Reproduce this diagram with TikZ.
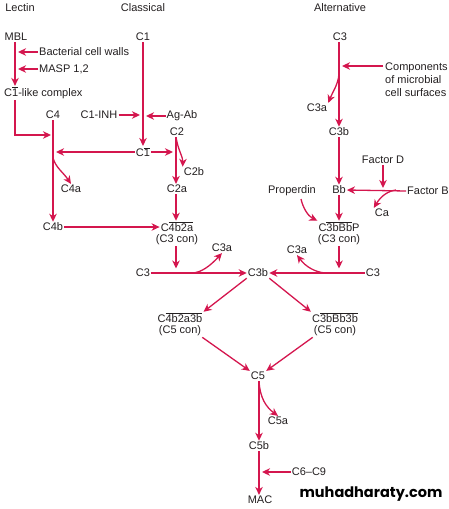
\documentclass[tikz,border=0pt]{standalone}
\usepackage{fontspec}
\setmainfont{Liberation Sans}
\newfontfamily\wmfont{Poppins}[UprightFont=* Bold]
\usetikzlibrary{arrows.meta}
\definecolor{crim}{RGB}{212,22,78}
\definecolor{txt}{RGB}{35,31,32}
\tikzset{
  lbl/.style={inner sep=1pt, text=txt, font=\fontsize{11}{13}\selectfont},
  arr/.style={draw=crim, line width=1.3pt, -{Stealth[length=8pt,width=7.5pt,inset=2.5pt]}},
  ln/.style={draw=crim, line width=1.3pt},
}
\newcommand{\ovl}[1]{$\overline{\mbox{#1}}$}
\begin{document}
\begin{tikzpicture}[x=1pt,y=-1pt]
\useasboundingbox (0,0) rectangle (449,509);
% headings
\node[lbl] (lectin) at (20,8) {Lectin};
\node[lbl] (classical) at (143,8) {Classical};
\node[lbl] (alt) at (340,8) {Alternative};
% lectin pathway
\node[lbl] (mbl) at (16,37) {MBL};
\node[lbl, anchor=west] (bcw) at (38,52) {Bacterial cell walls};
\node[lbl, anchor=west] (masp) at (38,69) {MASP 1,2};
\node[lbl, anchor=west] (c1like) at (3,93) {C\ovl{1}-like complex};
\coordinate (mblx) at (15,37);
\draw[arr] (mbl.south -| mblx) -- (mblx |- c1like.north);
\draw[arr, shorten >=3pt] (bcw.west) -- (bcw.west -| mblx);
\draw[arr, shorten >=3pt] (masp.west) -- (masp.west -| mblx);
\node[lbl] (c4) at (53,115) {C4};
\coordinate (j1) at (51,135);
\draw[arr] (mblx |- c1like.south) |- (j1);
\node[lbl] (c4a) at (71,189) {C4a};
\node[lbl] (c4b) at (53,227) {C4b};
\draw[arr] (c4.south) -- (c4b.north);
\coordinate (c4s) at (53,158);
\draw[arr] (c4s) .. controls (56,168) and (63,172) .. (c4a.north);
% classical pathway
\node[lbl] (c1) at (143,37) {C1};
\node[lbl] (c1bar) at (143,152) {C\ovl{1}};
\draw[arr] (c1.south) -- (c1bar.north);
\node[lbl] (c1inh) at (99,115) {C1-INH};
\node[lbl] (agab) at (182,116) {Ag-Ab};
\draw[arr, shorten >=3pt] (c1inh.east) -- (c1inh.east -| c1);
\draw[arr, shorten >=3pt] (agab.west) -- (agab.west -| c1);
\draw[arr, shorten >=3pt] (c1bar.west) -- (c1bar.west -| c4);
\node[lbl] (c2) at (177,132) {C2};
\coordinate (c2x) at (176,132);
\draw[arr, shorten >=3pt] (c1bar.east) -- (c1bar.east -| c2x);
\node[lbl] (c2b) at (194,172) {C2b};
\node[lbl] (c2a) at (177,189) {C2a};
\draw[arr] (c2.south -| c2x) -- (c2x |- c2a.north);
\draw[arr] (c2.south -| c2x) .. controls (178,150) and (183,157) .. (c2b.north west);
\node[lbl] (c4b2a) at (177,227) {C\ovl{4b2a}};
\node[lbl] (con1) at (177,240) {(C3 con)};
\draw[arr] (c2x |- c2a.south) -- (c2x |- c4b2a.north);
\draw[arr] (c4b.east) -- (c4b2a.west);
% middle row
\node[lbl] (c3l) at (143,273) {C3};
\node[lbl] (c3b) at (258,273) {C3b};
\node[lbl] (c3r) at (373,273) {C3};
\draw[arr] (c3l.east) -- (c3b.west);
\draw[arr] (c3r.west) -- (c3b.east);
\draw[arr, shorten >=4.5pt] (c2x |- con1.south) -- (c2x |- c3b.center);
\node[lbl] (c3al) at (222,248) {C3a};
\node[lbl] (c3ar) at (297,250) {C3a};
\coordinate (ml) at (193,273);
\coordinate (mr) at (325,273);
\draw[arr] (ml) .. controls (202,272) and (210,266) .. (c3al.south);
\draw[arr] (mr) .. controls (315,272) and (306,267) .. (c3ar.south);
% alternative pathway
\node[lbl] (c3t) at (340,37) {C3};
\coordinate (ax) at (339,37);
\node[lbl] (c3bal) at (339,132) {C3b};
\draw[arr] (c3t.south -| ax) -- (ax |- c3bal.north);
\node[lbl, anchor=west, align=left, inner sep=0pt] (comp) at (385,80) {Components\\of microbial\\cell surfaces};
\coordinate (compa) at (383,66);
\draw[arr, shorten >=3pt] (compa) -- (compa -| ax);
\node[lbl] (c3aal) at (317,108) {C3a};
\coordinate (a75) at (339,74);
\draw[arr] (a75) .. controls (338,85) and (333,91) .. (c3aal.north east);
\node[lbl] (bb) at (339,190) {Bb};
\draw[arr] (c3bal.south) -- (bb.north);
\node[lbl] (fd) at (383,160) {Factor D};
\node[lbl] (fb) at (428,191) {Factor B};
\node[lbl] (ca) at (382,213) {Ca};
\draw[arr] (fb.west) -- (bb.east);
\coordinate (fbj) at (383,190);
\draw[arr, shorten >=2pt] (fd.south) -- (fbj);
\coordinate (fbc) at (396,190);
\draw[arr] (fbc) .. controls (388,191) and (381,196) .. (ca.north west);
\node[lbl] (prop) at (292,191) {Properdin};
\node[lbl] (c3bbbp) at (339,227) {C\ovl{3bBb}P};
\node[lbl] (con2) at (339,240) {(C3 con)};
\draw[arr] (bb.south) -- (c3bbbp.north);
\coordinate (pp) at (301,199);
\draw[arr] (pp) .. controls (303,208) and (308,216) .. (c3bbbp.north west);
\draw[arr, shorten >=4.5pt] (con2.south -| ax) -- (ax |- c3b.center);
% C5 convertases
\node[lbl] (c5l) at (180,318) {C\ovl{4b2a3b}};
\node[lbl] (con3) at (180,331) {(C5 con)};
\node[lbl] (c5r) at (335,318) {C\ovl{3bBb3b}};
\node[lbl] (con4) at (335,331) {(C5 con)};
\draw[arr] (c3b.south west) -- (c5l.north east);
\draw[arr] (c3b.south east) -- (c5r.north west);
\node[lbl] (c5) at (258,376) {C5};
\draw[arr] (con3.south east) -- (c5.north west);
\draw[arr] (con4.south west) -- (c5.north east);
\node[lbl] (c5a) at (278,421) {C5a};
\node[lbl] (c5b) at (259,446) {C5b};
\coordinate (cx) at (259,376);
\draw[arr] (c5.south -| cx) -- (cx |- c5b.north);
\draw[arr] (c5.south -| cx) .. controls (260,398) and (266,407) .. (c5a.north);
\node[lbl] (mac) at (260,500) {MAC};
\node[lbl] (c69) at (309,472) {C6--C9};
\draw[arr] (c5b.south -| cx) -- (cx |- mac.north);
\draw[arr, shorten >=3pt] (c69.west) -- (c69.west -| cx);
% watermark
\node[inner sep=0pt, text=black, font=\wmfont\fontsize{14.5}{16}\selectfont] (wm) at (371,494) {muhadharaty.com};
\end{tikzpicture}
\end{document}
